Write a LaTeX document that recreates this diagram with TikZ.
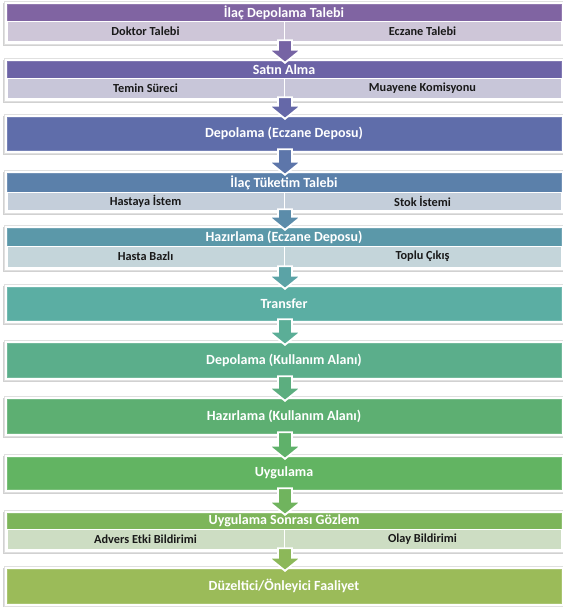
\documentclass[tikz,border=0pt]{standalone}
\usepackage{fontspec}
\setmainfont{Carlito}
\usetikzlibrary{calc,shadows}

\definecolor{cA}{HTML}{8064A2}
\definecolor{cB}{HTML}{6C63A6}
\definecolor{cC}{HTML}{5F6DAA}
\definecolor{cD}{HTML}{5B80AA}
\definecolor{cE}{HTML}{5B98A9}
\definecolor{cF}{HTML}{5BAEA3}
\definecolor{cG}{HTML}{5BAE8B}
\definecolor{cH}{HTML}{5DAF72}
\definecolor{cI}{HTML}{62B462}
\definecolor{cJ}{HTML}{7DB55A}
\definecolor{cK}{HTML}{9BBB59}

\tikzset{
  frame/.style={fill=white, draw=black!12, line width=.4pt,
    drop shadow={shadow xshift=-.8pt, shadow yshift=-1.6pt, fill=black!40, opacity=.45}},
  head/.style={fill=#1, draw=#1!85!white, line width=.4pt, minimum width=554pt,
    inner sep=0pt, text=white, font=\bfseries\fontsize{14}{15}\selectfont},
  sub/.style={fill=#1!30!white!95!black, draw=white, line width=.4pt, minimum width=277pt,
    inner sep=0pt, text=black!90, font=\bfseries\fontsize{12.3}{13}\selectfont},
  flow/.style={fill=#1, draw=white, line width=1.8pt, line join=miter},
}

\begin{document}
\begin{tikzpicture}[x=1pt, y=-1pt]
\useasboundingbox (0,0) rectangle (562,607);
\coordinate (mid) at (285,0);

% frames behind the boxes
\path[frame] (4,1) rectangle (564,44);
\path[frame] (4,58) rectangle (564,101);
\path[frame] (4,114) rectangle (564,153);
\path[frame] (4,170) rectangle (564,213);
\path[frame] (4,225) rectangle (564,270);
\path[frame] (4,284) rectangle (564,323);
\path[frame] (4,340) rectangle (564,380);
\path[frame] (4,396) rectangle (564,436);
\path[frame] (4,454) rectangle (564,492);
\path[frame] (4,510) rectangle (564,552);
\path[frame] (4,566) rectangle (564,606);

% stages
\node[head=cA, minimum height=17pt] (h1) at (284,12.5) {İlaç Depolama Talebi};
\node[sub=cA, minimum height=20pt] (s1a) at (145.5,31) {Doktor Talebi};
\node[sub=cA, minimum height=20pt] (s1b) at (422.5,31) {Eczane Talebi};

\node[head=cB, minimum height=17pt] (h2) at (284,69.5) {Satın Alma};
\node[sub=cB, minimum height=20pt] (s2a) at (145.5,88) {Temin Süreci};
\node[sub=cB, minimum height=20pt] (s2b) at (422.5,88) {Muayene Komisyonu};

\node[head=cC, minimum height=33pt] (h3) at (284,133.5) {Depolama (Eczane Deposu)};

\node[head=cD, minimum height=19pt] (h4) at (284,182.5) {İlaç Tüketim Talebi};
\node[sub=cD, minimum height=18pt] (s4a) at (145.5,201) {Hastaya İstem};
\node[sub=cD, minimum height=18pt] (s4b) at (422.5,201) {Stok İstemi};

\node[head=cE, minimum height=18pt] (h5) at (284,237) {Hazırlama (Eczane Deposu)};
\node[sub=cE, minimum height=21pt] (s5a) at (145.5,256.5) {Hasta Bazlı};
\node[sub=cE, minimum height=21pt] (s5b) at (422.5,256.5) {Toplu Çıkış};

\node[head=cF, minimum height=33pt] (h6) at (284,303.5) {Transfer};
\node[head=cG, minimum height=34pt] (h7) at (284,360) {Depolama (Kullanım Alanı)};
\node[head=cH, minimum height=34pt] (h8) at (284,416) {Hazırlama (Kullanım Alanı)};
\node[head=cI, minimum height=32pt] (h9) at (284,473) {Uygulama};

\node[head=cJ, minimum height=16pt] (h10) at (284,521) {Uygulama Sonrası Gözlem};
\node[sub=cJ, minimum height=20pt] (s10a) at (145.5,539) {Advers Etki Bildirimi};
\node[sub=cJ, minimum height=20pt] (s10b) at (422.5,539) {Olay Bildirimi};

\node[head=cK, minimum height=34pt] (h11) at (284,586) {Düzeltici/Önleyici Faaliyet};

% arrows between stages
\foreach \a/\b/\c/\d in {s1a/h2/cA/cB, s2a/h3/cB/cC, h3/h4/cC/cD, s4a/h5/cD/cE,
    s5a/h6/cE/cF, h6/h7/cF/cG, h7/h8/cG/cH, h8/h9/cH/cI, h9/h10/cI/cJ, s10a/h11/cJ/cK}
{
  \coordinate (top) at ($(\a.south -| mid)+(0,-1)$);
  \coordinate (tip) at ($(\b.north -| mid)+(0,2)$);
  \draw[flow=\c!50!\d] ($(top)+(-7,0)$) -- ($(tip)+(-7,-13)$) -- ($(tip)+(-16,-13)$)
    -- (tip) -- ($(tip)+(16,-13)$) -- ($(tip)+(7,-13)$) -- ($(top)+(7,0)$) -- cycle;
}
\end{tikzpicture}
\end{document}
